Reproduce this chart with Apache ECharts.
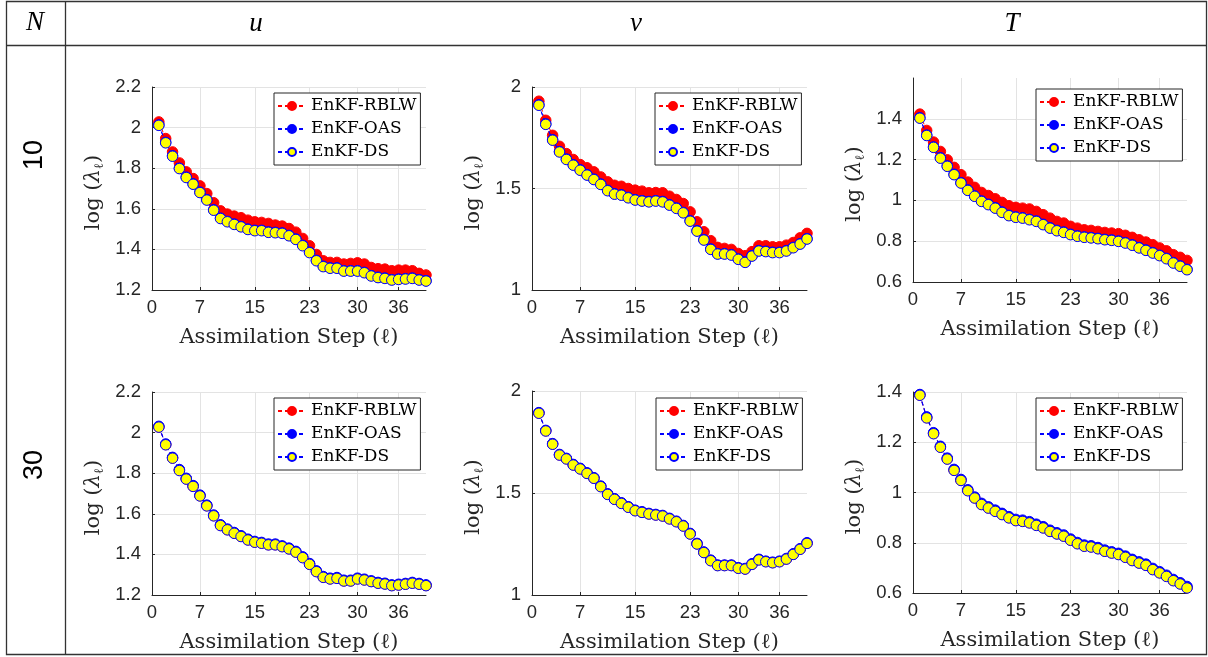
<!DOCTYPE html>
<html>
<head>
<meta charset="utf-8">
<script src="https://cdn.jsdelivr.net/npm/echarts@6/dist/echarts.min.js"></script>
<style>
  html, body { margin: 0; padding: 0; background: #fff; }
  #chart { width: 1208px; height: 657px; }
</style>
</head>
<body>
<div id="chart"></div>
<script>
// assimilation steps
const steps = [1, 2, 3, 4, 5, 6, 7, 8, 9, 10, 11, 12, 13, 14, 15, 16, 17, 18, 19, 20,
  21, 22, 23, 24, 25, 26, 27, 28, 29, 30, 31, 32, 33, 34, 35, 36, 37, 38, 39, 40];
const methods = ['EnKF-RBLW', 'EnKF-OAS', 'EnKF-DS'];
const xTicks = [0, 7, 15, 23, 30, 36];

// N = 10
const uRBLW10 = [2.028, 1.946, 1.880, 1.826, 1.782, 1.749, 1.713, 1.675, 1.630, 1.590,
  1.574, 1.564, 1.556, 1.544, 1.536, 1.533, 1.528, 1.520, 1.515, 1.503,
  1.485, 1.454, 1.418, 1.375, 1.344, 1.336, 1.336, 1.328, 1.331, 1.334,
  1.328, 1.311, 1.305, 1.303, 1.295, 1.298, 1.298, 1.295, 1.282, 1.274];
const uOAS10 = [2.013, 1.927, 1.861, 1.800, 1.756, 1.723, 1.682, 1.645, 1.595, 1.554,
  1.538, 1.525, 1.513, 1.500, 1.494, 1.494, 1.486, 1.484, 1.481, 1.469,
  1.451, 1.420, 1.386, 1.346, 1.317, 1.309, 1.309, 1.295, 1.295, 1.295,
  1.287, 1.271, 1.263, 1.259, 1.251, 1.254, 1.256, 1.259, 1.251, 1.246];
const uDS10 = [2.011, 1.925, 1.859, 1.798, 1.754, 1.721, 1.680, 1.643, 1.593, 1.552,
  1.536, 1.523, 1.511, 1.498, 1.492, 1.492, 1.484, 1.482, 1.479, 1.467,
  1.449, 1.418, 1.384, 1.344, 1.315, 1.307, 1.307, 1.293, 1.293, 1.293,
  1.285, 1.269, 1.261, 1.257, 1.249, 1.252, 1.254, 1.257, 1.249, 1.244];

const vRBLW10 = [1.930, 1.836, 1.762, 1.708, 1.672, 1.643, 1.618, 1.602, 1.582, 1.557,
  1.533, 1.516, 1.511, 1.500, 1.492, 1.487, 1.479, 1.480, 1.479, 1.462,
  1.446, 1.426, 1.385, 1.336, 1.287, 1.243, 1.210, 1.205, 1.200, 1.180,
  1.169, 1.189, 1.218, 1.218, 1.213, 1.213, 1.221, 1.234, 1.257, 1.279];
const vOAS10 = [1.912, 1.818, 1.740, 1.682, 1.645, 1.617, 1.592, 1.568, 1.546, 1.522,
  1.491, 1.474, 1.469, 1.456, 1.445, 1.440, 1.436, 1.440, 1.436, 1.420,
  1.404, 1.382, 1.341, 1.292, 1.248, 1.202, 1.179, 1.179, 1.174, 1.153,
  1.138, 1.169, 1.194, 1.191, 1.186, 1.186, 1.194, 1.210, 1.228, 1.253];
const vDS10 = [1.910, 1.816, 1.738, 1.680, 1.643, 1.615, 1.590, 1.566, 1.544, 1.520,
  1.489, 1.472, 1.467, 1.454, 1.443, 1.438, 1.434, 1.438, 1.434, 1.418,
  1.402, 1.380, 1.339, 1.290, 1.246, 1.200, 1.177, 1.177, 1.172, 1.151,
  1.136, 1.167, 1.192, 1.189, 1.184, 1.184, 1.192, 1.208, 1.226, 1.251];

const tRBLW10 = [1.423, 1.343, 1.286, 1.240, 1.199, 1.162, 1.126, 1.090, 1.064, 1.039,
  1.024, 1.008, 0.990, 0.974, 0.966, 0.962, 0.958, 0.946, 0.930, 0.913,
  0.897, 0.889, 0.873, 0.864, 0.856, 0.853, 0.848, 0.843, 0.840, 0.837,
  0.829, 0.819, 0.807, 0.796, 0.783, 0.767, 0.753, 0.734, 0.721, 0.706];
const tOAS10 = [1.405, 1.320, 1.262, 1.209, 1.169, 1.128, 1.087, 1.051, 1.022, 0.997,
  0.981, 0.964, 0.943, 0.927, 0.919, 0.915, 0.907, 0.899, 0.883, 0.866,
  0.853, 0.845, 0.834, 0.826, 0.821, 0.818, 0.814, 0.809, 0.806, 0.801,
  0.793, 0.782, 0.769, 0.757, 0.744, 0.731, 0.716, 0.695, 0.679, 0.662];
const tDS10 = [1.403, 1.318, 1.260, 1.207, 1.167, 1.126, 1.085, 1.049, 1.020, 0.995,
  0.979, 0.962, 0.941, 0.925, 0.917, 0.913, 0.905, 0.897, 0.881, 0.864,
  0.851, 0.843, 0.832, 0.824, 0.819, 0.816, 0.812, 0.807, 0.804, 0.799,
  0.791, 0.780, 0.767, 0.755, 0.742, 0.729, 0.714, 0.693, 0.677, 0.660];

// N = 30
const uRBLW30 = [2.028, 1.941, 1.875, 1.815, 1.772, 1.736, 1.689, 1.640, 1.591, 1.543,
  1.522, 1.505, 1.489, 1.472, 1.461, 1.456, 1.448, 1.448, 1.439, 1.428,
  1.412, 1.385, 1.352, 1.316, 1.288, 1.280, 1.283, 1.270, 1.270, 1.280,
  1.275, 1.267, 1.259, 1.255, 1.247, 1.250, 1.254, 1.259, 1.254, 1.247];
const uOAS30 = [2.031, 1.944, 1.878, 1.818, 1.775, 1.739, 1.692, 1.643, 1.594, 1.546,
  1.525, 1.508, 1.492, 1.475, 1.464, 1.459, 1.451, 1.451, 1.442, 1.431,
  1.415, 1.388, 1.355, 1.319, 1.291, 1.283, 1.286, 1.273, 1.273, 1.283,
  1.278, 1.270, 1.262, 1.258, 1.250, 1.253, 1.257, 1.262, 1.257, 1.250];
const uDS30 = [2.027, 1.940, 1.874, 1.813, 1.771, 1.735, 1.688, 1.639, 1.590, 1.542,
  1.521, 1.504, 1.488, 1.471, 1.460, 1.455, 1.447, 1.447, 1.438, 1.427,
  1.411, 1.384, 1.351, 1.315, 1.287, 1.279, 1.282, 1.269, 1.269, 1.279,
  1.274, 1.266, 1.258, 1.254, 1.246, 1.249, 1.253, 1.258, 1.253, 1.246];

const vRBLW30 = [1.892, 1.805, 1.740, 1.687, 1.668, 1.638, 1.619, 1.597, 1.573, 1.532,
  1.494, 1.470, 1.450, 1.431, 1.414, 1.406, 1.398, 1.393, 1.388, 1.374,
  1.360, 1.339, 1.300, 1.251, 1.209, 1.169, 1.145, 1.145, 1.145, 1.132,
  1.128, 1.151, 1.173, 1.164, 1.159, 1.164, 1.177, 1.200, 1.225, 1.254];
const vOAS30 = [1.894, 1.807, 1.742, 1.689, 1.670, 1.640, 1.621, 1.599, 1.575, 1.534,
  1.496, 1.472, 1.452, 1.433, 1.416, 1.408, 1.400, 1.395, 1.390, 1.376,
  1.362, 1.341, 1.302, 1.253, 1.211, 1.171, 1.147, 1.147, 1.147, 1.134,
  1.130, 1.153, 1.175, 1.166, 1.161, 1.166, 1.179, 1.202, 1.227, 1.256];
const vDS30 = [1.891, 1.804, 1.739, 1.686, 1.667, 1.637, 1.618, 1.596, 1.572, 1.531,
  1.493, 1.469, 1.449, 1.430, 1.413, 1.405, 1.397, 1.392, 1.387, 1.373,
  1.359, 1.338, 1.299, 1.250, 1.208, 1.168, 1.144, 1.144, 1.144, 1.131,
  1.127, 1.150, 1.172, 1.163, 1.158, 1.163, 1.176, 1.199, 1.224, 1.253];

const tRBLW30 = [1.388, 1.298, 1.235, 1.181, 1.134, 1.089, 1.049, 1.008, 0.979, 0.953,
  0.939, 0.926, 0.913, 0.900, 0.889, 0.886, 0.880, 0.870, 0.860, 0.846,
  0.836, 0.827, 0.811, 0.797, 0.787, 0.784, 0.777, 0.767, 0.760, 0.754,
  0.743, 0.730, 0.720, 0.711, 0.694, 0.681, 0.667, 0.650, 0.637, 0.621];
const tOAS30 = [1.390, 1.301, 1.238, 1.184, 1.137, 1.092, 1.052, 1.011, 0.982, 0.957,
  0.943, 0.930, 0.917, 0.904, 0.893, 0.890, 0.884, 0.874, 0.864, 0.850,
  0.840, 0.831, 0.815, 0.801, 0.791, 0.788, 0.781, 0.771, 0.764, 0.758,
  0.747, 0.734, 0.724, 0.715, 0.698, 0.685, 0.671, 0.654, 0.641, 0.626];
const tDS30 = [1.387, 1.297, 1.234, 1.180, 1.133, 1.088, 1.048, 1.007, 0.978, 0.952,
  0.938, 0.925, 0.912, 0.899, 0.888, 0.885, 0.879, 0.869, 0.859, 0.845,
  0.835, 0.826, 0.810, 0.796, 0.786, 0.783, 0.776, 0.766, 0.759, 0.753,
  0.742, 0.729, 0.719, 0.710, 0.693, 0.680, 0.666, 0.649, 0.636, 0.620];

// y axis ranges / tick labels per panel
const yMin = [1.2, 1, 0.6, 1.2, 1, 0.6];
const yMax = [2.2, 2, 1.6, 2.2, 2, 1.4];
const yTicks = [
  [1.2, 1.4, 1.6, 1.8, 2, 2.2],
  [1, 1.5, 2],
  [0.6, 0.8, 1, 1.2, 1.4],
  [1.2, 1.4, 1.6, 1.8, 2, 2.2],
  [1, 1.5, 2],
  [0.6, 0.8, 1, 1.2, 1.4]
];
const panelData = [
  [uRBLW10, uOAS10, uDS10],
  [vRBLW10, vOAS10, vDS10],
  [tRBLW10, tOAS10, tDS10],
  [uRBLW30, uOAS30, uDS30],
  [vRBLW30, vOAS30, vDS30],
  [tRBLW30, tOAS30, tDS30]
];

// layout (pixels)
const grids = [
  { left: 152, top: 87, width: 274, height: 203 },
  { left: 532, top: 87, width: 275, height: 203 },
  { left: 913, top: 78, width: 274, height: 204 },
  { left: 152, top: 392, width: 274, height: 203 },
  { left: 532, top: 391, width: 275, height: 204 },
  { left: 913, top: 392, width: 274, height: 201 }
];
const legendPos = [[274, 93], [655, 93], [1036, 89], [274, 398], [656, 398], [1036, 398]];

const AX = '#262626';
const SERIF = 'DejaVu Serif';
const SANS = 'Liberation Sans';

const styles = [
  { line: '#ff0000', fill: '#ff0000', edge: '#ff0000' },
  { line: '#0000ff', fill: '#0000ff', edge: '#0000ff' },
  { line: '#0000ff', fill: '#ffff00', edge: '#0000ff' }
];

let xAxis = [], yAxis = [], series = [], legend = [];
grids.forEach((g, i) => {
  xAxis.push({
    type: 'value', gridIndex: i, min: 0, max: 40,
    name: 'Assimilation Step (ℓ)', nameLocation: 'middle', nameGap: 37,
    nameTextStyle: { fontFamily: SERIF, fontSize: 21, color: AX },
    axisLine: { show: true, onZero: false, lineStyle: { color: AX, width: 1 } },
    axisTick: { show: true, inside: true, length: 3, customValues: xTicks, lineStyle: { color: AX } },
    axisLabel: { customValues: xTicks, margin: 8, fontFamily: SANS, fontSize: 18.5, color: AX },
    splitLine: { show: true, lineStyle: { color: '#e3e3e3', width: 1 } }
  });
  yAxis.push({
    type: 'value', gridIndex: i, min: yMin[i], max: yMax[i],
    name: '{a|log}{a| (}{b|λ}{c|ℓ}{a|)}', nameLocation: 'middle', nameGap: 46, nameRotate: 90,
    nameTextStyle: {
      padding: [0, 8, 0, 0],
      rich: {
        a: { fontFamily: SERIF, fontSize: 21, color: AX },
        b: { fontFamily: SERIF, fontSize: 21, fontStyle: 'italic', color: AX },
        c: { fontFamily: SERIF, fontSize: 13, color: AX, padding: [11, 0, 0, 0] }
      }
    },
    axisLine: { show: true, onZero: false, lineStyle: { color: AX, width: 1 } },
    axisTick: { show: true, inside: true, length: 3, customValues: yTicks[i], lineStyle: { color: AX } },
    axisLabel: { customValues: yTicks[i], margin: 11, fontFamily: SANS, fontSize: 18.5, color: AX },
    splitLine: { show: true, lineStyle: { color: '#e3e3e3', width: 1 } }
  });
  methods.forEach((m, k) => {
    series.push({
      type: 'line', name: m, xAxisIndex: i, yAxisIndex: i,
      data: steps.map((s, j) => [s, panelData[i][k][j]]),
      symbol: 'circle', symbolSize: 10.5,
      lineStyle: { color: styles[k].line, width: 1, type: [4, 3] },
      itemStyle: { color: styles[k].fill, borderColor: styles[k].edge, borderWidth: 1 },
      z: 2 + k
    });
  });
  legend.push({
    left: legendPos[i][0], top: legendPos[i][1],
    orient: 'vertical', data: methods, selectedMode: false,
    itemWidth: 28, itemHeight: 10, itemGap: 5,
    padding: [4, 4, 4, 3],
    borderColor: AX, borderWidth: 1, borderRadius: 0, backgroundColor: '#fff',
    textStyle: { fontFamily: SERIF, fontSize: 17, color: '#000', lineHeight: 18 }
  });
});

const LINE = '#333';
const graphic = [
  { type: 'rect', shape: { x: 6.5, y: 1.5, width: 1200, height: 653 }, style: { fill: 'none', stroke: LINE, lineWidth: 1.3 }, z: 100 },
  { type: 'line', shape: { x1: 6.5, y1: 45.5, x2: 1206.5, y2: 45.5 }, style: { stroke: LINE, lineWidth: 1.3 }, z: 100 },
  { type: 'line', shape: { x1: 65.5, y1: 1.5, x2: 65.5, y2: 654.5 }, style: { stroke: LINE, lineWidth: 1.3 }, z: 100 },
  { type: 'text', x: 35, y: 23, style: { text: 'N', font: 'italic 27px "Liberation Serif"', fill: '#000', textAlign: 'center', textVerticalAlign: 'middle' }, z: 100 },
  { type: 'text', x: 256, y: 24, style: { text: 'u', font: 'italic 27px "Liberation Serif"', fill: '#000', textAlign: 'center', textVerticalAlign: 'middle' }, z: 100 },
  { type: 'text', x: 636, y: 24, style: { text: 'v', font: 'italic 27px "Liberation Serif"', fill: '#000', textAlign: 'center', textVerticalAlign: 'middle' }, z: 100 },
  { type: 'text', x: 1012, y: 24, style: { text: 'T', font: 'italic 27px "Liberation Serif"', fill: '#000', textAlign: 'center', textVerticalAlign: 'middle' }, z: 100 },
  { type: 'text', x: 35, y: 155, rotation: Math.PI / 2, style: { text: '10', font: '27px "Liberation Sans"', fill: '#000', textAlign: 'center', textVerticalAlign: 'middle' }, z: 100 },
  { type: 'text', x: 35, y: 465, rotation: Math.PI / 2, style: { text: '30', font: '27px "Liberation Sans"', fill: '#000', textAlign: 'center', textVerticalAlign: 'middle' }, z: 100 }
];

const chart = echarts.init(document.getElementById('chart'));
chart.setOption({
  animation: false,
  backgroundColor: '#fff',
  grid: grids,
  xAxis: xAxis,
  yAxis: yAxis,
  legend: legend,
  series: series,
  graphic: graphic
});

window.addEventListener('resize', function () {
  chart.resize();
}, false);
</script>
</body>
</html>
